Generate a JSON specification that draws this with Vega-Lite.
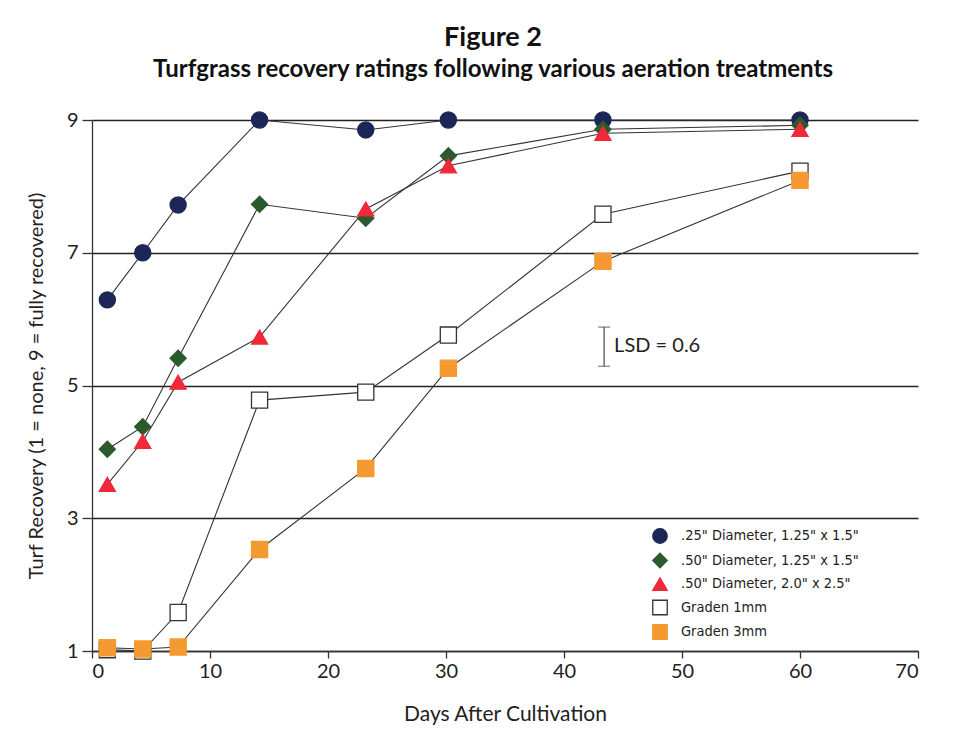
{
  "$schema": "https://vega.github.io/schema/vega-lite/v6.json",
  "width": 826,
  "height": 531,
  "autosize": {"type": "none"},
  "padding": {"left": 92, "top": 120, "right": 35, "bottom": 96},
  "background": "white",
  "config": {
    "view": {"stroke": null},
    "font": "Lato"
  },
  "title": {
    "text": "Figure 2",
    "subtitle": "Turfgrass recovery ratings following various aeration treatments",
    "font": "Lato", "fontSize": 27, "fontWeight": "bold", "color": "#111",
    "subtitleFont": "Lato", "subtitleFontSize": 24, "subtitleFontWeight": "bold", "subtitleColor": "#111",
    "subtitlePadding": 6, "offset": 26, "anchor": "middle", "dx": -12
  },
  "data": {"values": [
    {"series": ".25\" Diameter, 1.25\" x 1.5\"", "day": 1.3, "rating": 6.29},
    {"series": ".25\" Diameter, 1.25\" x 1.5\"", "day": 4.3, "rating": 7.0},
    {"series": ".25\" Diameter, 1.25\" x 1.5\"", "day": 7.3, "rating": 7.72},
    {"series": ".25\" Diameter, 1.25\" x 1.5\"", "day": 14.2, "rating": 9.0},
    {"series": ".25\" Diameter, 1.25\" x 1.5\"", "day": 23.2, "rating": 8.85},
    {"series": ".25\" Diameter, 1.25\" x 1.5\"", "day": 30.2, "rating": 9.0},
    {"series": ".25\" Diameter, 1.25\" x 1.5\"", "day": 43.3, "rating": 9.0},
    {"series": ".25\" Diameter, 1.25\" x 1.5\"", "day": 60.0, "rating": 9.0},
    {"series": ".50\" Diameter, 1.25\" x 1.5\"", "day": 1.3, "rating": 4.04},
    {"series": ".50\" Diameter, 1.25\" x 1.5\"", "day": 4.3, "rating": 4.38},
    {"series": ".50\" Diameter, 1.25\" x 1.5\"", "day": 7.3, "rating": 5.41},
    {"series": ".50\" Diameter, 1.25\" x 1.5\"", "day": 14.2, "rating": 7.73},
    {"series": ".50\" Diameter, 1.25\" x 1.5\"", "day": 23.2, "rating": 7.52},
    {"series": ".50\" Diameter, 1.25\" x 1.5\"", "day": 30.2, "rating": 8.46},
    {"series": ".50\" Diameter, 1.25\" x 1.5\"", "day": 43.3, "rating": 8.86},
    {"series": ".50\" Diameter, 1.25\" x 1.5\"", "day": 60.0, "rating": 8.92},
    {"series": ".50\" Diameter, 2.0\" x 2.5\"", "day": 1.3, "rating": 3.51},
    {"series": ".50\" Diameter, 2.0\" x 2.5\"", "day": 4.3, "rating": 4.16},
    {"series": ".50\" Diameter, 2.0\" x 2.5\"", "day": 7.3, "rating": 5.05},
    {"series": ".50\" Diameter, 2.0\" x 2.5\"", "day": 14.2, "rating": 5.73},
    {"series": ".50\" Diameter, 2.0\" x 2.5\"", "day": 23.2, "rating": 7.66},
    {"series": ".50\" Diameter, 2.0\" x 2.5\"", "day": 30.2, "rating": 8.31},
    {"series": ".50\" Diameter, 2.0\" x 2.5\"", "day": 43.3, "rating": 8.80},
    {"series": ".50\" Diameter, 2.0\" x 2.5\"", "day": 60.0, "rating": 8.86},
    {"series": "Graden 1mm", "day": 1.3, "rating": 1.02},
    {"series": "Graden 1mm", "day": 4.3, "rating": 1.0},
    {"series": "Graden 1mm", "day": 7.3, "rating": 1.58},
    {"series": "Graden 1mm", "day": 14.2, "rating": 4.78},
    {"series": "Graden 1mm", "day": 23.2, "rating": 4.9},
    {"series": "Graden 1mm", "day": 30.2, "rating": 5.76},
    {"series": "Graden 1mm", "day": 43.3, "rating": 7.58},
    {"series": "Graden 1mm", "day": 60.0, "rating": 8.23},
    {"series": "Graden 3mm", "day": 1.3, "rating": 1.05},
    {"series": "Graden 3mm", "day": 4.3, "rating": 1.03},
    {"series": "Graden 3mm", "day": 7.3, "rating": 1.06},
    {"series": "Graden 3mm", "day": 14.2, "rating": 2.53},
    {"series": "Graden 3mm", "day": 23.2, "rating": 3.75},
    {"series": "Graden 3mm", "day": 30.2, "rating": 5.26},
    {"series": "Graden 3mm", "day": 43.3, "rating": 6.87},
    {"series": "Graden 3mm", "day": 60.0, "rating": 8.09}
  ]},
  "layer": [
    {
      "mark": {"type": "line", "color": "#333", "strokeWidth": 1.1},
      "encoding": {
        "x": {"field": "day", "type": "quantitative", "scale": {"domain": [0, 70], "nice": false}, "axis": {"values": [0,10,20,30,40,50,60,70], "format": "d", "title": "Days After Cultivation", "titlePadding": 22, "grid": false, "tickSize": 7, "labelPadding": 3, "labelFont": "Lato", "labelFontSize": 20, "labelColor": "#222", "titleFont": "Lato", "titleFontSize": 21, "titleFontWeight": "normal", "titleColor": "#222", "domainColor": "#333", "domainWidth": 1.3, "tickColor": "#333", "tickWidth": 1.3}},
        "y": {"field": "rating", "type": "quantitative", "scale": {"domain": [1, 9], "nice": false}, "axis": {"values": [1,3,5,7,9], "format": "d", "title": "Turf Recovery (1 = none, 9 = fully recovered)", "titlePadding": 20, "grid": true, "gridColor": "#222", "gridWidth": 1.3, "gridOpacity": 1, "tickSize": 10, "labelPadding": 4, "labelFont": "Lato", "labelFontSize": 20, "labelColor": "#222", "titleFont": "Lato", "titleFontSize": 20, "titleFontWeight": "normal", "titleColor": "#222", "domainColor": "#333", "domainWidth": 1.3, "tickColor": "#333", "tickWidth": 1.3}},
        "detail": {"field": "series"}
      }
    },
    {
      "mark": {"type": "point", "filled": true, "size": 260, "strokeWidth": 1.3, "opacity": 1},
      "encoding": {
        "x": {"field": "day", "type": "quantitative"},
        "y": {"field": "rating", "type": "quantitative"},
        "shape": {"field": "series", "type": "nominal", "title": null, "scale": {"domain": [".25\" Diameter, 1.25\" x 1.5\"", ".50\" Diameter, 1.25\" x 1.5\"", ".50\" Diameter, 2.0\" x 2.5\"", "Graden 1mm", "Graden 3mm"], "range": ["circle", "diamond", "triangle-up", "square", "square"]},
          "legend": {"orient": "none", "legendX": 560, "legendY": 408, "labelFont": "DejaVu Sans Condensed", "labelFontSize": 14.5, "labelColor": "#222", "symbolSize": 210, "symbolStrokeWidth": 1.3, "rowPadding": 4.5, "labelOffset": 13, "labelLimit": 300}},
        "fill": {"field": "series", "type": "nominal", "title": null, "scale": {"domain": [".25\" Diameter, 1.25\" x 1.5\"", ".50\" Diameter, 1.25\" x 1.5\"", ".50\" Diameter, 2.0\" x 2.5\"", "Graden 1mm", "Graden 3mm"], "range": ["#1c2757", "#2b5a2c", "#f0283a", "#ffffff", "#f49a30"]},
          "legend": {"orient": "none", "legendX": 560, "legendY": 408, "labelFont": "DejaVu Sans Condensed", "labelFontSize": 14.5, "labelColor": "#222", "symbolSize": 210, "symbolStrokeWidth": 1.3, "rowPadding": 4.5, "labelOffset": 13, "labelLimit": 300}},
        "stroke": {"field": "series", "type": "nominal", "title": null, "scale": {"domain": [".25\" Diameter, 1.25\" x 1.5\"", ".50\" Diameter, 1.25\" x 1.5\"", ".50\" Diameter, 2.0\" x 2.5\"", "Graden 1mm", "Graden 3mm"], "range": ["#1c2757", "#2b5a2c", "#f0283a", "#333333", "#f49a30"]},
          "legend": {"orient": "none", "legendX": 560, "legendY": 408, "labelFont": "DejaVu Sans Condensed", "labelFontSize": 14.5, "labelColor": "#222", "symbolSize": 210, "symbolStrokeWidth": 1.3, "rowPadding": 4.5, "labelOffset": 13, "labelLimit": 300}}
      }
    },
    {
      "data": {"values": [{"day": 43.4, "lo": 5.29, "hi": 5.88, "mid": 5.59, "label": "LSD = 0.6"}]},
      "layer": [
        {
          "mark": {"type": "errorbar", "ticks": {"size": 12, "thickness": 1.3, "color": "#555"}, "rule": {"strokeWidth": 1.3, "color": "#555"}},
          "encoding": {
            "x": {"field": "day", "type": "quantitative"},
            "y": {"field": "lo", "type": "quantitative", "title": "Turf Recovery (1 = none, 9 = fully recovered)"},
            "y2": {"field": "hi"}
          }
        },
        {
          "mark": {"type": "text", "align": "left", "baseline": "middle", "dx": 10, "fontSize": 20, "font": "Lato", "color": "#222"},
          "encoding": {
            "x": {"field": "day", "type": "quantitative"},
            "y": {"field": "mid", "type": "quantitative"},
            "text": {"field": "label"}
          }
        }
      ]
    }
  ]
}
